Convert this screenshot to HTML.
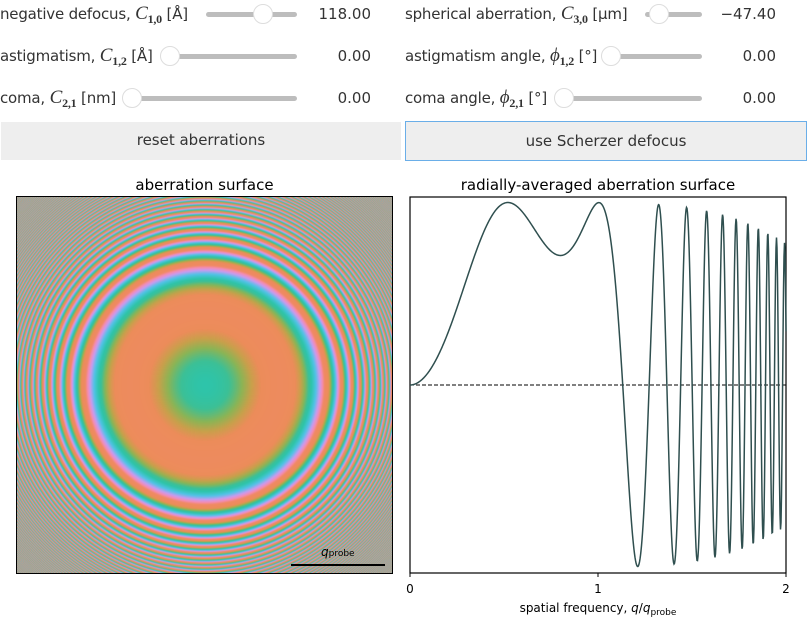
<!DOCTYPE html>
<html><head><meta charset="utf-8">
<style>
body{margin:0;width:811px;height:626px;background:#fff;font-family:"DejaVu Sans","Liberation Sans",sans-serif;color:#333;position:relative;overflow:hidden}
.lbl{position:absolute;font-size:15px;white-space:nowrap;letter-spacing:-0.2px}
.lbl i{font-family:"Liberation Serif",serif;font-size:19px}
.lbl sub{font-family:"Liberation Serif",serif;font-size:12px;font-weight:bold}
.val{position:absolute;font-size:15px;text-align:right;width:80px}
.track{position:absolute;height:5px;background:#bdbdbd;border-radius:3px}
.thumb{position:absolute;width:20px;height:20px;border-radius:50%;background:#fff;border:1px solid #ddd;box-sizing:border-box}
.btn{position:absolute;background:#eee;font-size:15px;text-align:center;line-height:37px;box-sizing:border-box}
.title{position:absolute;font-size:15px;color:#000;text-align:center}
</style></head><body>
<div class="lbl" style="left:0;top:3px">negative defocus, <i>C</i><sub>1,0</sub> [Å]</div>
<div class="track" style="left:206px;top:12px;width:91px"></div>
<div class="thumb" style="left:253px;top:4px"></div>
<div class="val" style="left:291px;top:5px">118.00</div>

<div class="lbl" style="left:0;top:45px">astigmatism, <i>C</i><sub>1,2</sub> [Å]</div>
<div class="track" style="left:165px;top:54px;width:132px"></div>
<div class="thumb" style="left:160px;top:46px"></div>
<div class="val" style="left:291px;top:47px">0.00</div>

<div class="lbl" style="left:0;top:87px">coma, <i>C</i><sub>2,1</sub> [nm]</div>
<div class="track" style="left:127px;top:96px;width:170px"></div>
<div class="thumb" style="left:122px;top:88px"></div>
<div class="val" style="left:291px;top:89px">0.00</div>

<div class="lbl" style="left:405px;top:3px">spherical aberration, <i>C</i><sub>3,0</sub> [μm]</div>
<div class="track" style="left:645px;top:12px;width:57px"></div>
<div class="thumb" style="left:649px;top:4px"></div>
<div class="val" style="left:696px;top:5px">−47.40</div>

<div class="lbl" style="left:405px;top:45px">astigmatism angle, <i>ϕ</i><sub>1,2</sub> [°]</div>
<div class="track" style="left:606px;top:54px;width:96px"></div>
<div class="thumb" style="left:601px;top:46px"></div>
<div class="val" style="left:696px;top:47px">0.00</div>

<div class="lbl" style="left:405px;top:87px">coma angle, <i>ϕ</i><sub>2,1</sub> [°]</div>
<div class="track" style="left:559px;top:96px;width:143px"></div>
<div class="thumb" style="left:554px;top:88px"></div>
<div class="val" style="left:696px;top:89px">0.00</div>

<div class="btn" style="left:1px;top:122px;width:400px;height:38px">reset aberrations</div>
<div class="btn" style="left:405px;top:121px;width:402px;height:40px;border:1px solid #6aaee8;line-height:38px">use Scherzer defocus</div>

<div class="title" style="left:17px;top:176px;width:375px">aberration surface</div>
<div class="title" style="left:410px;top:176px;width:376px">radially-averaged aberration surface</div>

<canvas id="surf" width="375" height="376" style="position:absolute;left:17px;top:197px"></canvas>
<div style="position:absolute;left:16px;top:196px;width:375px;height:376px;border:1px solid #000"></div>
<div style="position:absolute;left:291px;top:564px;width:94px;height:2px;background:#000"></div>
<div style="position:absolute;left:321px;top:545px;font-size:12px;color:#000"><i>q</i><span style="font-size:9px">probe</span></div>

<svg id="plot" width="811" height="626" style="position:absolute;left:0;top:0">
</svg>
<script>
// aberration phase coefficients (chi(q) = quadCoef*q^2 - quartCoef*q^4), q in units of q_probe
const phaseCoeffs = [7.35, 5.74];
const xTicks = [0, 1, 2];
const xTickLabels = ["0", "1", "2"];
const yDomain = [-1.03, 1.03];
const xDomain = [0, 2];

const X0=410,X1=786,Y0=197,Y1=573;
const xs=q=>X0+(q-xDomain[0])/(xDomain[1]-xDomain[0])*(X1-X0);
const ys=v=>Y1-(v-yDomain[0])/(yDomain[1]-yDomain[0])*(Y1-Y0);
const chi=q=>phaseCoeffs[0]*q*q-phaseCoeffs[1]*q*q*q*q;

const NS='http://www.w3.org/2000/svg';
const svg=document.getElementById('plot');
function mk(t,a,name){const e=document.createElementNS(NS,t);for(const k in a)e.setAttribute(k,a[k]);


svg.appendChild(e);return e;}
mk('rect',{x:X0,y:Y0,width:X1-X0,height:Y1-Y0,fill:'none',stroke:'#000','stroke-width':1.2},'plot-frame');
mk('line',{x1:X0,x2:X1,y1:ys(0),y2:ys(0),stroke:'#000','stroke-dasharray':'4,2','stroke-width':1},'zero-line');
xTicks.forEach((t,i)=>{
 mk('line',{x1:xs(t),x2:xs(t),y1:Y1,y2:Y1+4,stroke:'#000'},'x-tick');
 const tx=mk('text',{x:xs(t),y:Y1+20,'text-anchor':'middle','font-size':12,fill:'#000','font-family':'DejaVu Sans,sans-serif'},'x-tick-label');
 tx.textContent=xTickLabels[i];
});
const xl=mk('text',{x:(X0+X1)/2,y:612,'text-anchor':'middle','font-size':12,fill:'#000','font-family':'DejaVu Sans,sans-serif'},'x-axis-title');
xl.innerHTML='spatial frequency, <tspan font-style="italic">q</tspan>/<tspan font-style="italic">q</tspan><tspan font-size="9" dy="3">probe</tspan>';
let d='';const N=752,bw=0.014;
for(let i=0;i<=N;i++){const q=xDomain[0]+(xDomain[1]-xDomain[0])*i/N;let s=0;const M=9;
 for(let k=0;k<M;k++){const qq=Math.max(0,q+bw*((k/(M-1))-0.5));s+=Math.sin(chi(qq));}
 const v=s/M;d+=(i?'L':'M')+xs(q).toFixed(2)+','+ys(v).toFixed(2);}
mk('path',{d:d,fill:'none',stroke:'#2f4f4f','stroke-width':1.5},'radial-curve');

// 2D aberration surface
const stops=[[0,[46,196,170]],[0.45,[60,192,150]],[1.0,[140,180,85]],[1.45,[200,160,75]],[1.9,[236,140,90]],[3.14,[240,138,100]],[3.8,[244,140,180]],[4.5,[200,155,240]],[5.4,[80,195,230]],[6.2832,[46,196,170]]];
function cmap(t){t=((t%6.2832)+6.2832)%6.2832;for(let i=1;i<stops.length;i++){if(t<=stops[i][0]){const a=stops[i-1],b=stops[i],f=(t-a[0])/(b[0]-a[0]);return [0,1,2].map(j=>a[1][j]+(b[1][j]-a[1][j])*f);}}return stops[0][1];}
const cv=document.getElementById('surf'),ctx=cv.getContext('2d'),W=375,H=376;
const img=ctx.createImageData(W,H);const cx=188,cy=188,pxq=94;
for(let y=0;y<H;y++)for(let x=0;x<W;x++){let r=0,g=0,b=0;const S=3;
 for(let sy=0;sy<S;sy++)for(let sx=0;sx<S;sx++){const dx=x+(sx+0.5)/S-cx,dy=y+(sy+0.5)/S-cy;const q=Math.sqrt(dx*dx+dy*dy)/pxq;const c=cmap(chi(q));r+=c[0];g+=c[1];b+=c[2];}
 const o=(y*W+x)*4;img.data[o]=r/9;img.data[o+1]=g/9;img.data[o+2]=b/9;img.data[o+3]=255;}
ctx.putImageData(img,0,0);
</script>
</body></html>
